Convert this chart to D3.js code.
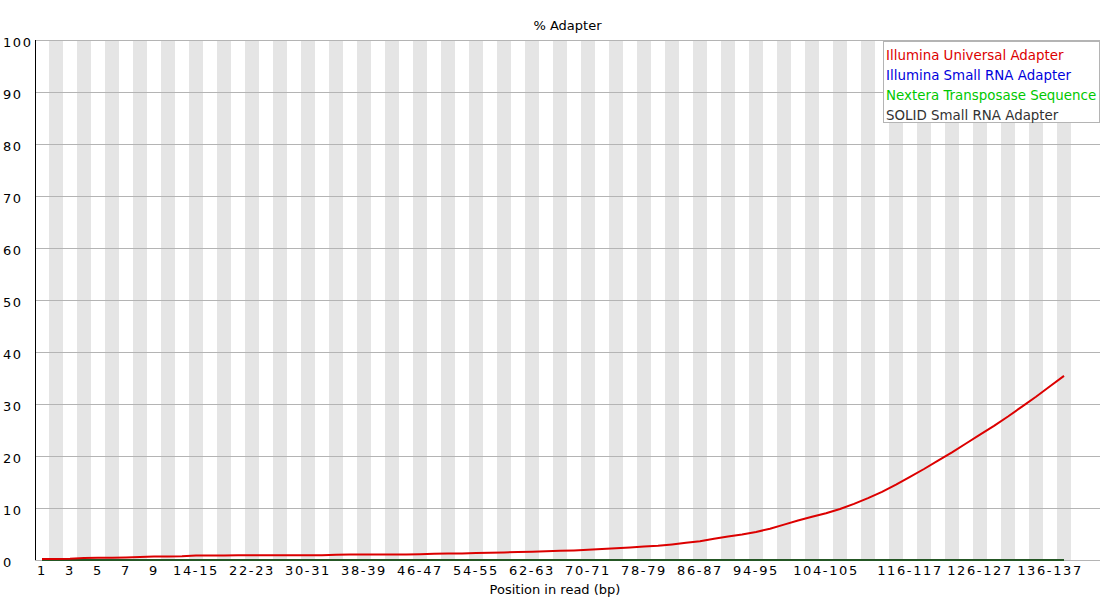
<!DOCTYPE html>
<html><head><meta charset="utf-8">
<script src="https://cdn.jsdelivr.net/npm/d3@7"></script>
<style>
html,body{margin:0;padding:0;background:#fff;}
text{font-family:"DejaVu Sans",sans-serif;font-size:13px;}
</style></head>
<body><svg id="c" width="1110" height="600"></svg>
<script>
// Categories (positions in read)
const singles = ["1","2","3","4","5","6","7","8","9"];
const pairStarts = d3.range(10, 140, 2);
const categories = singles.concat(pairStarts.map(s => s + "-" + (s + 1)));

const tickLabels = ["1","3","5","7","9","14-15","22-23","30-31","38-39","46-47","54-55","62-63","70-71","78-79","86-87","94-95","104-105","116-117","126-127","136-137"];

const illuminaUniversal = [0.2,0.2,0.25,0.4,0.45,0.45,0.5,0.6,0.65,0.65,
  0.7,0.85,0.88,0.88,0.9,0.9,0.9,0.9,0.9,0.9,
  0.92,1.0,1.05,1.05,1.05,1.05,1.05,1.1,1.2,1.25,
  1.25,1.35,1.4,1.45,1.55,1.6,1.7,1.8,1.85,1.95,
  2.1,2.25,2.4,2.6,2.75,3.0,3.3,3.6,4.1,4.5,
  4.9,5.4,6.0,6.8,7.6,8.3,9.0,9.8,10.8,11.9,
  13.1,14.5,16.0,17.5,19.1,20.7,22.4,24.1,25.8,27.6,
  29.5,31.4,33.4,35.4];
const illuminaSmallRNA = categories.map(() => 0);
const nexteraTransposase = categories.map(() => 0);
const solidSmallRNA = categories.map(() => 0);

const seriesNames = ["Illumina Universal Adapter","Illumina Small RNA Adapter","Nextera Transposase Sequence","SOLID Small RNA Adapter"];
const seriesColors = ["#dc0000","#0000dc","#00c800","#323232"];
const seriesValues = [illuminaUniversal, illuminaSmallRNA, nexteraTransposase, solidSmallRNA];

const svg = d3.select("#c");
const mLeft = 35, mRight = 1100, mTop = 40, mBottom = 560, band = 14;

const x = d3.scaleBand().domain(categories).range([mLeft, mLeft + band * categories.length]);
const y = d3.scaleLinear().domain([0, 100]).range([mBottom, mTop]);

// alternating bands
svg.append("g").selectAll("rect").data(categories.filter((d, i) => i % 2 === 1)).join("rect")
  .attr("x", d => x(d)).attr("y", mTop).attr("width", x.bandwidth()).attr("height", mBottom - mTop)
  .attr("fill", "#e5e5e5").attr("shape-rendering", "crispEdges");

// grid lines
svg.append("g").selectAll("line").data(y.ticks(10)).join("line")
  .attr("x1", mLeft).attr("x2", mRight).attr("y1", d => Math.round(y(d)) + 0.5).attr("y2", d => Math.round(y(d)) + 0.5)
  .attr("stroke", "#b4b4b4").attr("stroke-width", 1);

// y labels
svg.append("g").selectAll("text").data(y.ticks(10)).join("text")
  .attr("x", 3).attr("y", d => y(d) + 6.5).attr("letter-spacing", "1.6px").attr("fill", "#000")
  .text(d => d);

// y axis line
svg.append("line").attr("x1", mLeft + 0.5).attr("x2", mLeft + 0.5).attr("y1", mTop).attr("y2", mBottom)
  .attr("stroke", "#000").attr("stroke-width", 1);

// x axis labels
const xAxis = d3.axisBottom(x).tickValues(tickLabels).tickSize(0).tickPadding(0);
const gx = svg.append("g").attr("transform", `translate(0,${mBottom})`).call(xAxis);
gx.select(".domain").remove();
gx.selectAll("text").style("font-family", "DejaVu Sans").style("font-size", "13px")
  .attr("fill", "#000").attr("dy", null).attr("y", 15).attr("letter-spacing", "1.6px");

// lines (draw zero series first, universal on top)
const line = d3.line().x((d, i) => x(categories[i]) + x.bandwidth() / 2).y(d => y(d));
const order = [1, 2, 3, 0];
order.forEach(k => {
  svg.append("path").datum(seriesValues[k])
    .attr("d", line).attr("fill", "none")
    .attr("stroke", seriesColors[k]).attr("stroke-width", 2)
    .attr("stroke-opacity", k === 3 ? 0.75 : 1)
    .attr("stroke-linejoin", "round");
});

// title and x title
svg.append("text").attr("x", (mLeft + mRight) / 2).attr("y", 30).attr("text-anchor", "middle").text("% Adapter");
svg.append("text").attr("x", 555).attr("y", 594).attr("text-anchor", "middle").text("Position in read (bp)");

// legend
const lg = svg.append("g");
lg.append("rect").attr("x", 883.5).attr("y", 41.5).attr("width", 216).attr("height", 81)
  .attr("fill", "#fff").attr("stroke", "#b4b4b4");
lg.selectAll("text").data(seriesNames).join("text")
  .attr("x", 886).attr("y", (d, i) => 60 + 20 * i).style("font-size", "13.4px")
  .attr("fill", (d, i) => seriesColors[i]).text(d => d);
</script></body></html>
